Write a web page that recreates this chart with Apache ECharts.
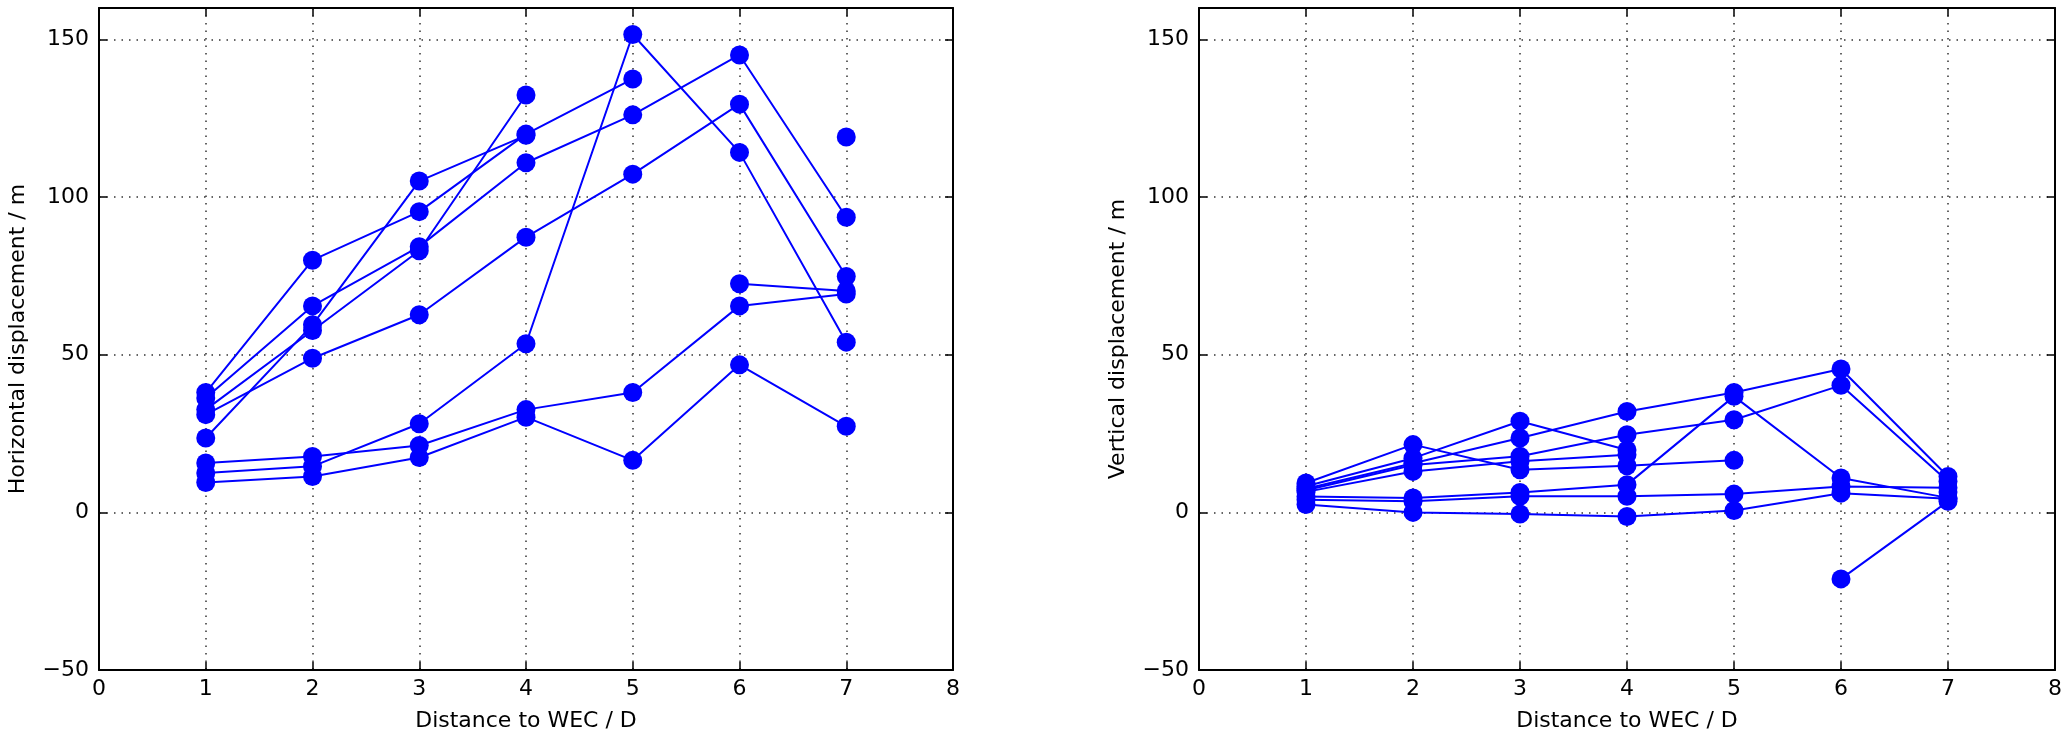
<!DOCTYPE html>
<html>
<head>
<meta charset="utf-8">
<script src="https://cdn.jsdelivr.net/npm/echarts@6/dist/echarts.min.js"></script>
<style>
html, body { margin: 0; padding: 0; background: #fff; }
#chart { width: 2067px; height: 741px; }
</style>
</head>
<body>
<div id="chart"></div>
<script>
const distance = [1, 2, 3, 4, 5, 6, 7]

// horizontal displacement / m, one array per run (null = missing)
const horiz1 = [38.0, 80.0, 95.4, 120.0, 137.5, null, 119.1]
const horiz2 = [23.6, 59.5, 105.1, 119.6, null, null, null]
const horiz3 = [32.6, 57.7, 83.0, 132.4, null, 72.5, 70.2]
const horiz4 = [36.3, 65.5, 84.3, 110.9, 126.1, 145.1, 93.6]
const horiz5 = [31.0, 48.9, 62.7, 87.3, 107.3, 129.5, 74.8]
const horiz6 = [12.5, 14.6, 28.1, 53.5, 151.6, 114.2, 54.0]
const horiz7 = [15.7, 17.7, 21.2, 32.6, 38.0, 65.5, 69.3]
const horiz8 = [9.5, 11.4, 17.4, 30.2, 16.5, 46.8, 27.3]

// vertical displacement / m
const vert1 = [9.3, 21.5, 13.5, 14.8, 16.5, null, 6.5]
const vert2 = [8.3, 17.2, 28.9, 19.8, null, null, null]
const vert3 = [6.5, 13.0, 16.2, 18.3, null, -21.1, 3.5]
const vert4 = [7.5, 15.6, 23.6, 32.0, 38.0, 45.5, 11.4]
const vert5 = [7.0, 15.0, 17.8, 24.6, 29.4, 40.3, 9.8]
const vert6 = [5.0, 4.6, 6.3, 8.8, 36.8, 10.9, 4.6]
const vert7 = [4.0, 3.5, 5.1, 5.1, 5.8, 8.2, 7.8]
const vert8 = [2.5, 0.0, -0.5, -1.3, 0.6, 6.1, 4.3]

const horizRuns = [horiz1, horiz2, horiz3, horiz4, horiz5, horiz6, horiz7, horiz8]
const vertRuns = [vert1, vert2, vert3, vert4, vert5, vert6, vert7, vert8]

const FONT = 'DejaVu Sans'
const frameLine = { show: true, onZero: false, lineStyle: { color: '#000', width: 2 } }
const tickIn = { show: true, inside: true, length: 8, lineStyle: { color: '#000', width: 1.5 } }
const dotted = { show: true, lineStyle: { color: '#333', width: 1.5, type: [1.5, 6] } }

function fmtY(v) {
  if (v === 160) return ''
  return v < 0 ? '\u2212' + (-v) : String(v)
}

function bottomX(grid) {
  return {
    type: 'value', gridIndex: grid, min: 0, max: 8, interval: 1, position: 'bottom',
    name: 'Distance to WEC / D', nameLocation: 'middle', nameGap: 40,
    nameTextStyle: { fontFamily: FONT, fontSize: 22, color: '#000' },
    axisLine: frameLine, axisTick: tickIn, splitLine: dotted,
    axisLabel: { fontFamily: FONT, fontSize: 22, color: '#000', margin: 8 }
  }
}
function topX(grid) {
  return {
    type: 'value', gridIndex: grid, min: 0, max: 8, interval: 1, position: 'top',
    axisLine: frameLine, axisTick: tickIn, splitLine: { show: false }, axisLabel: { show: false }
  }
}
function leftY(grid, title) {
  return {
    type: 'value', gridIndex: grid, min: -50, max: 160, interval: 50, position: 'left',
    name: title, nameLocation: 'middle', nameGap: 70,
    nameTextStyle: { fontFamily: FONT, fontSize: 22, color: '#000' },
    axisLine: frameLine, axisTick: tickIn, splitLine: dotted,
    axisLabel: { fontFamily: FONT, fontSize: 22, color: '#000', margin: 10, formatter: fmtY }
  }
}
function rightY(grid) {
  return {
    type: 'value', gridIndex: grid, min: -50, max: 160, interval: 50, position: 'right',
    axisLine: frameLine, axisTick: tickIn, splitLine: { show: false }, axisLabel: { show: false }
  }
}

function runSeries(values, grid) {
  return {
    type: 'line',
    xAxisIndex: grid,
    yAxisIndex: grid,
    data: distance.map((d, i) => [d, values[i]]),
    symbol: 'circle',
    symbolSize: 19,
    showAllSymbol: true,
    connectNulls: false,
    itemStyle: { color: '#0000ff' },
    lineStyle: { color: '#0000ff', width: 2 },
    emphasis: { disabled: true }
  }
}

const chart = echarts.init(document.getElementById('chart'))
chart.setOption({
  animation: false,
  backgroundColor: '#fff',
  grid: [
    { left: 99, top: 8, width: 854, height: 662 },
    { left: 1199, top: 8, width: 856, height: 662 }
  ],
  xAxis: [bottomX(0), bottomX(1), topX(0), topX(1)],
  yAxis: [
    leftY(0, 'Horizontal displacement / m'),
    leftY(1, 'Vertical displacement / m'),
    rightY(0),
    rightY(1)
  ],
  series: [
    ...horizRuns.map(r => runSeries(r, 0)),
    ...vertRuns.map(r => runSeries(r, 1))
  ]
})
</script>
</body>
</html>
